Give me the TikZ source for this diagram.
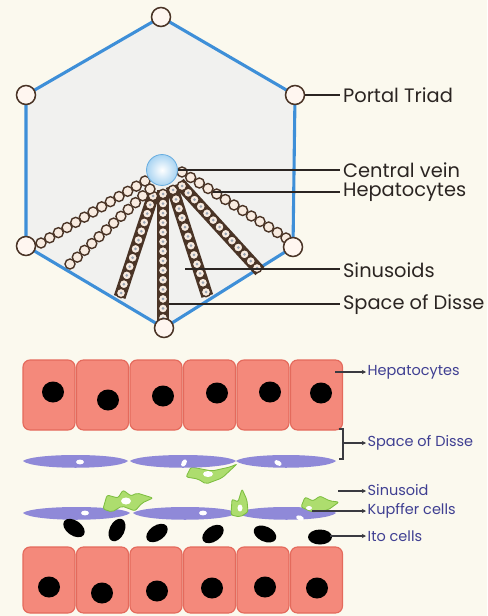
\documentclass[tikz,border=0pt]{standalone}
\usepackage{fontspec}
\setmainfont{Poppins}
\usetikzlibrary{calc, arrows.meta}
\definecolor{paper}{HTML}{FBF9EE}
\definecolor{hexfill}{HTML}{F1F1EF}
\definecolor{hexblue}{HTML}{3E8FD8}
\definecolor{cordbrown}{HTML}{4A3426}
\definecolor{triadfill}{HTML}{FFF6F0}
\definecolor{cellpale}{HTML}{F8EBE0}
\definecolor{dotgrey}{HTML}{9BA6B5}
\definecolor{veinblue}{HTML}{6AAEE0}
\definecolor{veinfill}{HTML}{A9D4F2}
\definecolor{inkdark}{HTML}{2B2522}
\definecolor{hepfill}{HTML}{F4897B}
\definecolor{hepedge}{HTML}{E46A5C}
\definecolor{endopurple}{HTML}{8F89D8}
\definecolor{kupfill}{HTML}{ADDD6E}
\definecolor{kupedge}{HTML}{7DBE40}
\definecolor{inkgrey}{HTML}{3A3A40}
\definecolor{inkblue}{HTML}{3F3F92}

\begin{document}
\begin{tikzpicture}[x=0.025cm, y=-0.025cm,
	hexline/.style={draw=hexblue, line width=2.2pt, line join=round, fill=hexfill},
	triad/.style={circle, draw=cordbrown, line width=1.1pt, fill=triadfill, minimum size=13.5pt, inner sep=0pt},
	vein/.style={circle, draw=veinblue, line width=0.6pt, inner color=white, outer color=veinfill, minimum size=22pt, inner sep=0pt},
	hcell/.style={draw=cordbrown, line width=1pt, fill=cellpale},
	cordband/.style={draw=cordbrown, line width=8.6pt, shorten <=-3pt, shorten >=-3pt},
	pointer/.style={draw=inkdark, line width=1.1pt},
	toptext/.style={text=inkdark, font=\fontsize{13.8}{16}\selectfont, inner sep=2pt},
	hepcell/.style={draw=hepedge, line width=0.8pt, fill=hepfill, rounded corners=5pt},
	endo/.style={fill=endopurple},
	kupffer/.style={draw=kupedge, line width=0.6pt, fill=kupfill, rounded corners=1.5pt},
	arrowline/.style={draw=inkgrey, line width=0.8pt, -{Stealth[length=3pt, width=3pt]}},
	bottext/.style={text=inkblue, font=\fontsize{10.3}{12}\selectfont, inner sep=1pt}]
	\fill[paper] (0,0) rectangle (487,616);
	\useasboundingbox (0,0) rectangle (487,616);
	% Lobule outline
	\coordinate (v1) at (161,17);
	\coordinate (v2) at (295,95);
	\coordinate (v3) at (293,247);
	\coordinate (v4) at (164,328);
	\coordinate (v5) at (26,246);
	\coordinate (v6) at (26,95);
	\draw[hexline] (v1) -- (v2) -- (v3) -- (v4) -- (v5) -- (v6) -- cycle;
	% Cords of hepatocytes
	\coordinate (s1) at (145,181); \coordinate (e1) at (41,243);
	\coordinate (s2) at (150,189); \coordinate (e2) at (70,264);
	\coordinate (s3) at (153,196); \coordinate (e3) at (121,293);
	\coordinate (s4) at (163,194); \coordinate (e4) at (163,318);
	\coordinate (s5) at (173,190); \coordinate (e5) at (206,292);
	\coordinate (s6) at (182,186); \coordinate (e6) at (257,268);
	\coordinate (s7) at (182,172); \coordinate (e7) at (286,238);
	\foreach \c/\n in {3/11, 4/13, 5/11, 6/12} {
		\draw[cordband] (s\c) -- (e\c);
		\foreach \i in {0,...,\n} {
			\draw[hcell] ($(s\c)!{\i/\n}!(e\c)$) circle[radius=4.7];
			\fill[dotgrey] ($(s\c)!{\i/\n}!(e\c)$) circle[radius=1.5];
		}
	}
	\foreach \c/\n in {1/12, 2/11, 7/12}
		\foreach \i in {0,...,\n}
			\draw[hcell] ($(s\c)!{\i/\n}!(e\c)$) circle[radius=5];
	% Portal triads and central vein
	\foreach \v in {1,...,6}
		\node[triad] (pt\v) at (v\v) {};
	\node[vein] (cv) at (162,170) {};
	% Labels of the lobule
	\node[toptext, anchor=west] (lpt) at (340,95) {Portal Triad};
	\draw[pointer] (pt2) -- (lpt);
	\node[toptext, anchor=west] (lcv) at (340,170) {Central vein};
	\draw[pointer] (cv) -- (lcv);
	\coordinate (hp) at ($(s7)!0.3!(e7)$);
	\node[toptext, anchor=west] (lhp) at (340,192) {Hepatocytes};
	\draw[pointer] (hp) -- (hp -| lhp.west);
	\coordinate (sn) at (185,269);
	\node[toptext, anchor=west] (lsn) at (340,270) {Sinusoids};
	\draw[pointer] (sn) -- (sn -| lsn.west);
	\coordinate (sd) at (169,304);
	\node[toptext, anchor=west] (lsd) at (340,305) {Space of Disse};
	\draw[pointer] (sd) -- (sd -| lsd.west);
	% Rows of hepatocytes
	\foreach \i in {0,...,5} {
		\draw[hepcell] (23+53.5*\i,360) rectangle ++(52,70);
		\draw[hepcell] (23+53.5*\i,547) rectangle ++(52,66);
	}
	\foreach \x/\y in {53/392, 108/400, 163/396, 217/393, 270/392, 321/393,
		49/587, 102/593, 157/591, 212/588, 265/587, 317/588}
		\fill (\x,\y) ellipse[x radius=11, y radius=10.5];
	% Kupffer cell under the upper lining
	\draw[kupffer] (186,477) -- (191,467) -- (212,471) -- (230,467) -- (237,464)
		-- (222,478) -- (206,484) -- (198,479) -- cycle;
	\fill[white] (208,474) ellipse[x radius=5, y radius=3];
	% Endothelial lining
	\foreach \a/\b/\y in {23/128/461, 130/236/461, 236/336/461,
		23/130/513, 133/237/513, 237/336/513}
		\fill[endo] (\a,\y) .. controls (\a+10,\y-8) and (\b-10,\y-8) .. (\b,\y)
			.. controls (\b-10,\y+9) and (\a+10,\y+9) .. cycle;
	\foreach \x/\y/\r in {80/462/0, 184/463/60, 278/463/-30, 85/513/0, 203/513/0, 300/518/-20}
		\fill[white, rotate around={\r:(\x,\y)}] (\x,\y) ellipse[x radius=4, y radius=2.4];
	% Kupffer cells on the lower lining
	\draw[kupffer] (103,509) -- (107,495) -- (118,498) -- (123,490) -- (131,496) -- (137,493)
		-- (153,498) -- (142,503) -- (135,511) -- (122,506) -- (112,512) -- cycle;
	\fill[white] (126,501) ellipse[x radius=5, y radius=3.5];
	\draw[kupffer] (231,515) -- (232,499) -- (238,502) -- (242,489) -- (247,500) -- (248,512)
		-- (240,517) -- cycle;
	\fill[white] (240,508) ellipse[x radius=2.5, y radius=3.5];
	\draw[kupffer] (301,507) -- (305,497) -- (313,501) -- (320,496) -- (330,501) -- (339,502)
		-- (328,510) -- (312,512) -- cycle;
	\fill[white] (309,508) ellipse[x radius=3, y radius=2];
	% Ito cells
	\foreach \x/\y/\r in {74/528/-35, 117/530/65, 157/533/35, 213/534/35, 265/534/-25, 320/537/0}
		\fill[rotate around={\r:(\x,\y)}] (\x,\y) ellipse[x radius=12, y radius=7.5];
	% Labels of the sinusoid
	\node[bottext, anchor=west] (bhp) at (366,372) {Hepatocytes};
	\coordinate (bhpa) at (335,372);
	\draw[arrowline] (bhpa) -- (bhpa -| bhp.west);
	\coordinate (bra) at (339,429);
	\coordinate (brb) at (339,459);
	\draw[inkgrey, line width=0.8pt] (bra) -- ++(4,0) |- (brb);
	\coordinate (brm) at (343,443);
	\node[bottext, anchor=west] (bsd) at (366,443) {Space of Disse};
	\draw[arrowline] (brm) -- (brm -| bsd.west);
	\coordinate (bsna) at (338,491);
	\node[bottext, anchor=west] (bsn) at (366,490) {Sinusoid};
	\draw[arrowline] (bsna) -- (bsna -| bsn.west);
	\coordinate (bkpa) at (312,511);
	\node[bottext, anchor=west] (bkp) at (366,511) {Kupffer cells};
	\draw[arrowline] (bkpa) -- (bkpa -| bkp.west);
	\coordinate (bitoa) at (330,536);
	\node[bottext, anchor=west] (bito) at (366,536) {Ito cells};
	\draw[arrowline] (bitoa) -- (bitoa -| bito.west);
\end{tikzpicture}
\end{document}
